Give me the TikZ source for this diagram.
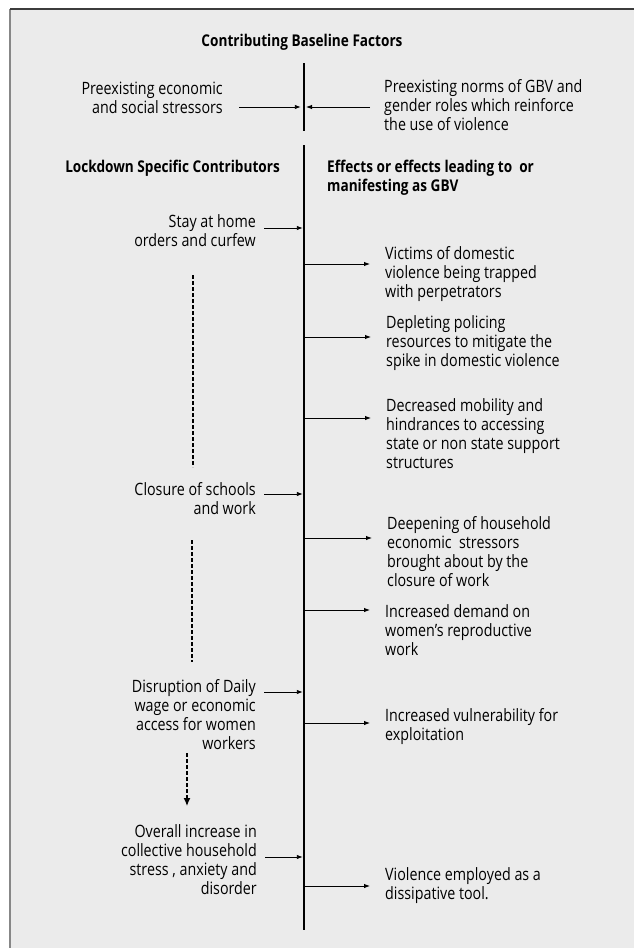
\documentclass[tikz,border=0pt]{standalone}
\usepackage{fontspec}
\setmainfont[FakeStretch=0.84]{Open Sans}
\usetikzlibrary{arrows.meta,positioning,calc}
\definecolor{panelgray}{RGB}{235,235,235}
\definecolor{framegray}{RGB}{135,135,135}
\definecolor{topgray}{RGB}{60,60,60}
\tikzset{
  headtxt/.style={inner sep=0pt, font=\bfseries\fontsize{16.2}{19}\selectfont},
  lefttxt/.style={anchor=east, align=right, inner sep=0pt, font=\fontsize{17}{19}\selectfont},
  righttxt/.style={anchor=west, align=left, inner sep=0pt, font=\fontsize{17}{19}\selectfont},
  inarrow/.style={-{Latex[length=6pt,width=4.5pt]}, line width=0.9pt, shorten <=8pt, shorten >=1.2pt},
  outarrow/.style={-{Latex[length=6pt,width=4.5pt]}, line width=0.9pt, shorten >=15pt},
  spineline/.style={line width=2pt},
  dashline/.style={line width=1.3pt, dash pattern=on 4pt off 2pt}
}
\begin{document}
\begin{tikzpicture}[x=1pt, y=-1pt]
  \useasboundingbox (0,0) rectangle (634,948);
  \fill[panelgray] (10,9) rectangle (634,948);
  \draw[framegray, line width=1.5pt] (10,948) -- (10,9);
  \draw[topgray, line width=1.2pt] (10,9) -- (634,9);

  \node[headtxt] (base) at (302,42) {Contributing Baseline Factors};
  \coordinate (ttop) at (304,63);
  \coordinate (tbot) at (304,131);
  \draw[spineline] (ttop) -- (tbot);
  \coordinate (mtop) at (304,145);
  \coordinate (mbot) at (304,930);
  \draw[spineline] (mtop) -- (mbot);

  \node[lefttxt] (preeco) at (223,98) {Preexisting economic\\and social stressors};
  \node[righttxt] (prenorm) at (384,105) {Preexisting norms of GBV and\\gender roles which reinforce\\the use of violence};
  \coordinate (bl) at (302,107);
  \coordinate (br) at (306,107);
  \draw[inarrow, shorten <=16pt] (preeco.east |- bl) -- (bl);
  \draw[inarrow, shorten <=0pt, shorten >=0pt] (prenorm.west |- br) ++(-14pt,0) -- (br);

  \node[headtxt, anchor=east] (lock) at (280,168) {Lockdown Specific Contributors};
  \node[headtxt, anchor=west, align=left] (effects) at (327,177.5) {Effects or effects leading to~ or\\manifesting as GBV};

  \node[lefttxt] (stay) at (256,231) {Stay at home\\orders and curfew};
  \node[lefttxt] (closure) at (256,499) {Closure of schools\\and work};
  \node[lefttxt] (disrupt) at (256,715) {Disruption of Daily\\wage or economic\\access for women\\workers};
  \node[lefttxt] (overall) at (257,860) {Overall increase in\\collective household\\stress , anxiety and\\disorder};

  \foreach \n/\y in {stay/228,closure/494,disrupt/692,overall/857} {
    \coordinate (in\n) at (304,\y);
    \draw[inarrow] (\n.east |- in\n) -- (in\n);
  }

  \node[righttxt] (victims) at (385,274) {Victims of domestic\\violence being trapped\\with perpetrators};
  \node[righttxt] (policing) at (386,343.5) {Depleting policing\\resources to mitigate the\\spike in domestic violence};
  \node[righttxt] (mobility) at (386,434) {Decreased mobility and\\hindrances to accessing\\state or non state support\\structures};
  \node[righttxt] (deepen) at (387,551.5) {Deepening of household\\economic~ stressors\\brought about by the\\closure of work};
  \node[righttxt] (demand) at (385,630.5) {Increased demand on\\women's reproductive\\work};
  \node[righttxt] (vulner) at (385,726.5) {Increased vulnerability for\\exploitation};
  \node[righttxt] (violence) at (385,885.5) {Violence employed as a\\dissipative tool.};

  \foreach \n/\y in {victims/264,policing/337,mobility/418,deepen/538,demand/610,vulner/723,violence/886} {
    \coordinate (out\n) at (304,\y);
    \draw[outarrow] (out\n) -- (out\n -| \n.west);
  }

  \coordinate (dashA) at (193,275);
  \coordinate (dashB) at (193,467);
  \draw[dashline] (dashA) -- (dashB);
  \coordinate (dashC) at (192,540);
  \coordinate (dashD) at (192,662);
  \draw[dashline] (dashC) -- (dashD);
  \coordinate (dashE) at (187,753);
  \coordinate (dashF) at (187,806);
  \draw[dashline, -{Latex[length=8pt,width=7pt]}] (dashE) -- (dashF);
\end{tikzpicture}
\end{document}
